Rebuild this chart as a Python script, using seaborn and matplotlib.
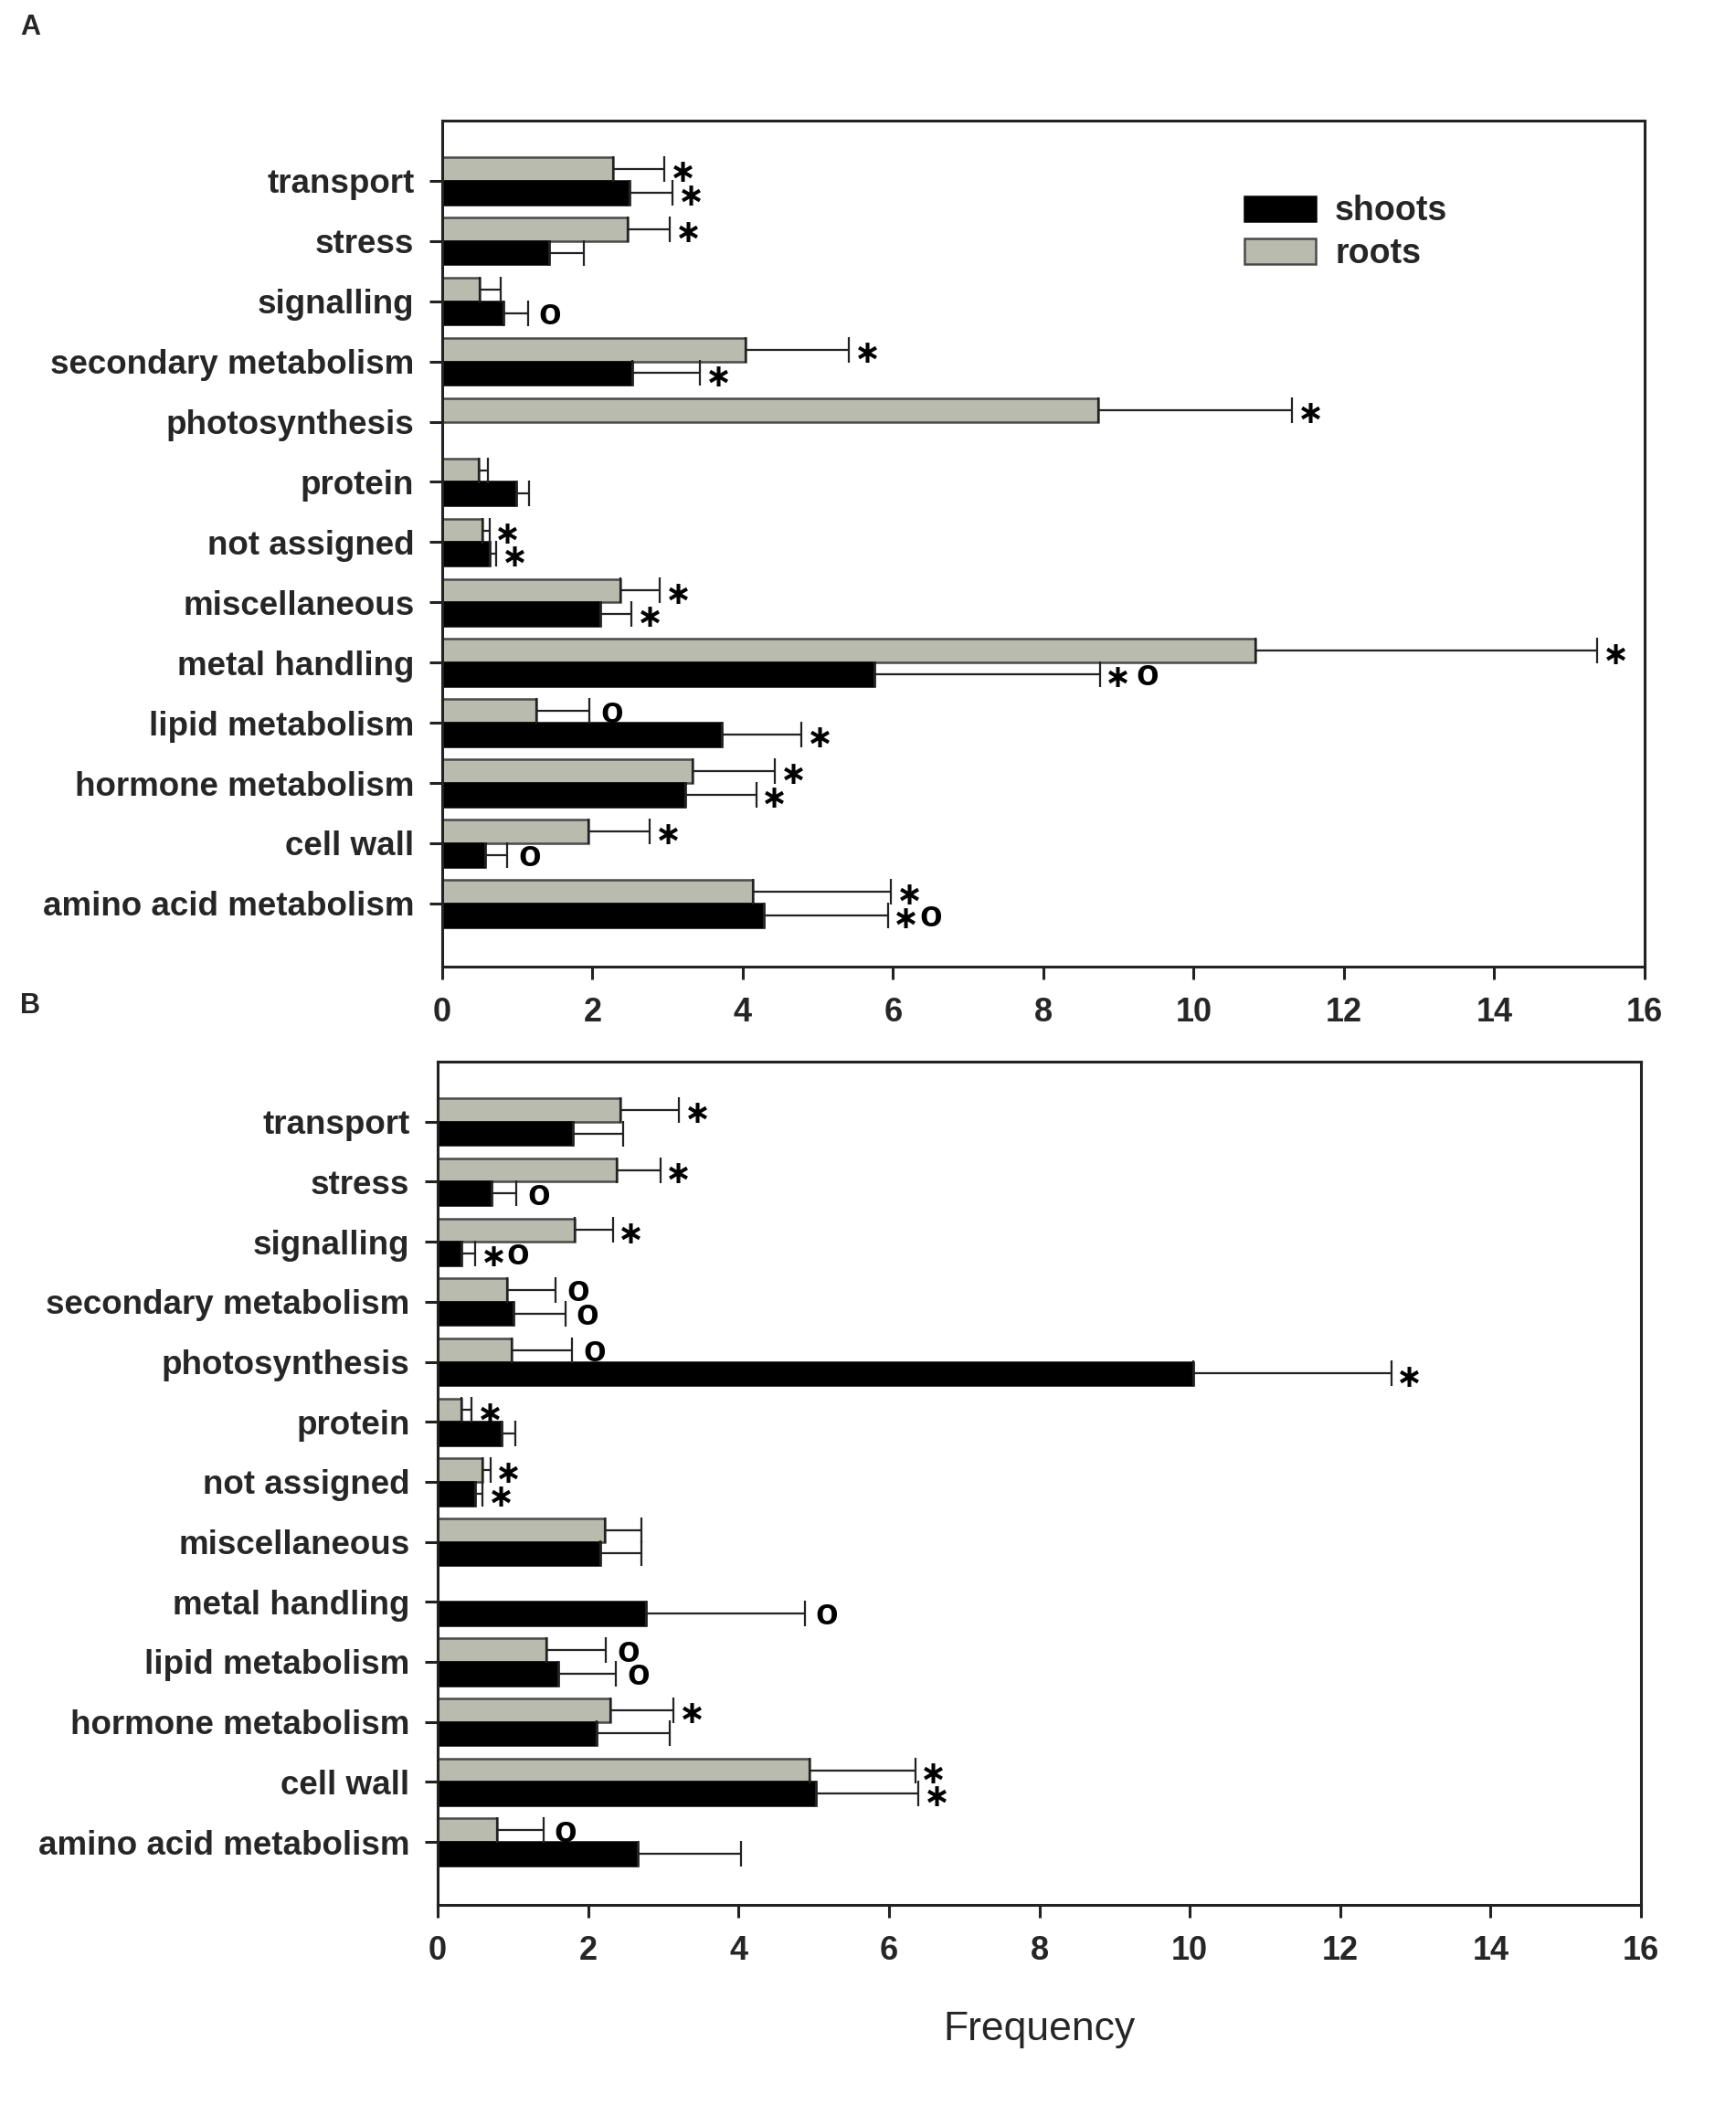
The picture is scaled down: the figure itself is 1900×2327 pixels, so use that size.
import numpy as np
import pandas as pd
import seaborn as sns
import matplotlib
matplotlib.use("Agg")
import matplotlib.pyplot as plt
from matplotlib.patches import Patch

categories = ["transport", "stress", "signalling", "secondary metabolism",
              "photosynthesis", "protein", "not assigned", "miscellaneous",
              "metal handling", "lipid metabolism", "hormone metabolism",
              "cell wall", "amino acid metabolism"]

# Panel A
roots_A = [2.27, 2.47, 0.50, 4.04, 8.73, 0.49, 0.54, 2.37, 10.82, 1.25, 3.33, 1.95, 4.14]
roots_A_err = [0.69, 0.56, 0.28, 1.37, 2.58, 0.12, 0.09, 0.53, 4.55, 0.71, 1.10, 0.81, 1.83]
shoots_A = [2.49, 1.42, 0.81, 2.53, 0.0, 0.99, 0.63, 2.10, 5.75, 3.72, 3.23, 0.57, 4.28]
shoots_A_err = [0.58, 0.46, 0.33, 0.90, 0.0, 0.16, 0.09, 0.42, 3.00, 1.06, 0.95, 0.30, 1.65]
roots_A_marks = ["*", "*", "", "*", "*", "", "*", "*", "*", "o", "*", "*", "*"]
shoots_A_marks = ["*", "", "o", "*", "", "", "*", "*", "* o", "*", "*", "o", "*o"]

# Panel B
roots_B = [2.43, 2.38, 1.82, 0.92, 0.99, 0.32, 0.60, 2.22, 0.0, 1.44, 2.30, 4.95, 0.79]
roots_B_err = [0.78, 0.58, 0.51, 0.65, 0.80, 0.13, 0.10, 0.49, 0.0, 0.80, 0.84, 1.40, 0.62]
shoots_B = [1.80, 0.72, 0.32, 1.01, 10.05, 0.85, 0.50, 2.16, 2.77, 1.60, 2.11, 5.03, 2.66]
shoots_B_err = [0.67, 0.33, 0.18, 0.69, 2.63, 0.18, 0.10, 0.55, 2.11, 0.77, 0.97, 1.36, 1.37]
roots_B_marks = ["*", "*", "*", "o", "o", "*", "*", "", "", "o", "*", "*", "o"]
shoots_B_marks = ["", "o", "*o", "o", "*", "", "*", "", "o", "o", "", "*", ""]

xticks = [0, 2, 4, 6, 8, 10, 12, 14, 16]
tissues = ["roots", "shoots"]
colors = {"roots": "#b9bbae", "shoots": "#000000"}
edges = {"roots": "#4a4a4a", "shoots": "#000000"}

sns.set_style("white")
plt.rcParams["font.family"] = ["Liberation Sans", "DejaVu Sans"]
plt.rcParams["font.weight"] = "bold"

fig = plt.figure(figsize=(19, 23.27), dpi=100)
axA = fig.add_axes([0.2547, 0.5453, 0.6926, 0.398])
axB = fig.add_axes([0.2521, 0.1040, 0.6932, 0.3966])


def put_mark(ax, mark, x, y):
    dx = 7.5
    for ch in mark:
        if ch == " ":
            dx += 4
            continue
        if ch == "*":
            ax.annotate("\u2217", xy=(x, y), xytext=(dx + 7, -3), textcoords="offset points",
                        ha="center", va="center", fontsize=25, fontweight="bold",
                        family=["DejaVu Sans"], color="black")
            dx += 16.5
        else:
            ax.annotate("o", xy=(x, y), xytext=(dx + 1, -1), textcoords="offset points",
                        ha="left", va="center", fontsize=29, fontweight="bold",
                        color="black")
            dx += 17


def draw(ax, roots, roots_err, shoots, shoots_err, rmarks, smarks):
    df = pd.DataFrame({
        "category": categories * 2,
        "tissue": ["roots"] * len(categories) + ["shoots"] * len(categories),
        "value": list(roots) + list(shoots),
    })
    sns.barplot(data=df, y="category", x="value", hue="tissue", order=categories,
                hue_order=tissues, palette=colors, orient="h", width=0.78,
                errorbar=None, ax=ax, legend=False, saturation=1)
    errs = [roots_err, shoots_err]
    marks = [rmarks, smarks]
    bar_containers = list(ax.containers[:2])
    for k, cont in enumerate(bar_containers):
        t = tissues[k]
        xs, ys, es = [], [], []
        for bar, e, m in zip(cont, errs[k], marks[k]):
            bar.set_edgecolor(edges[t])
            bar.set_linewidth(1.8)
            xc = bar.get_width()
            yc = bar.get_y() + bar.get_height() / 2
            if e > 0:
                xs.append(xc); ys.append(yc); es.append(e)
            if m:
                put_mark(ax, m, xc + e, yc)
        if xs:
            ax.errorbar(xs, ys, xerr=[np.zeros(len(es)), es], fmt="none",
                        ecolor="#222222", elinewidth=1.6, capsize=10,
                        capthick=1.6, zorder=5)
    ax.set_xlim(0, 16)
    ax.set_ylim(13.05, -1.0)
    ax.set_xticks(xticks)
    ax.set_xticklabels([str(v) for v in xticks])
    ax.set_ylabel("")
    ax.set_xlabel("")
    for s in ax.spines.values():
        s.set_visible(True)
        s.set_linewidth(2.2)
        s.set_color("#222222")
    ax.tick_params(axis="both", which="both", direction="out", length=10,
                   width=2.2, color="#222222")
    ax.tick_params(axis="x", pad=14, top=False, bottom=True, labelsize=26)
    ax.tick_params(axis="y", pad=12, left=True, right=False, labelsize=26.5)
    for lab in ax.get_xticklabels() + ax.get_yticklabels():
        lab.set_fontweight("bold")


draw(axA, roots_A, roots_A_err, shoots_A, shoots_A_err, roots_A_marks, shoots_A_marks)
draw(axB, roots_B, roots_B_err, shoots_B, shoots_B_err, roots_B_marks, shoots_B_marks)

handles = [Patch(facecolor=colors["shoots"], edgecolor=edges["shoots"], linewidth=1.8, label="shoots"),
           Patch(facecolor=colors["roots"], edgecolor=edges["roots"], linewidth=1.8, label="roots")]
axA.legend(handles=handles, loc="upper left", bbox_to_anchor=(0.667, 0.912), frameon=False,
           prop={"size": 27, "weight": "bold"}, handlelength=2.1, handleheight=0.75,
           handletextpad=0.55, labelspacing=0.28, borderpad=0, borderaxespad=0)

axB.set_xlabel("Frequency", fontsize=32, fontweight="normal", labelpad=34)

fig.text(0.0174, 0.987, "A", fontsize=22, fontweight="bold", ha="center", va="center")
fig.text(0.0174, 0.527, "B", fontsize=22, fontweight="bold", ha="center", va="center")

fig.savefig("out.png", dpi=100, facecolor="white")
